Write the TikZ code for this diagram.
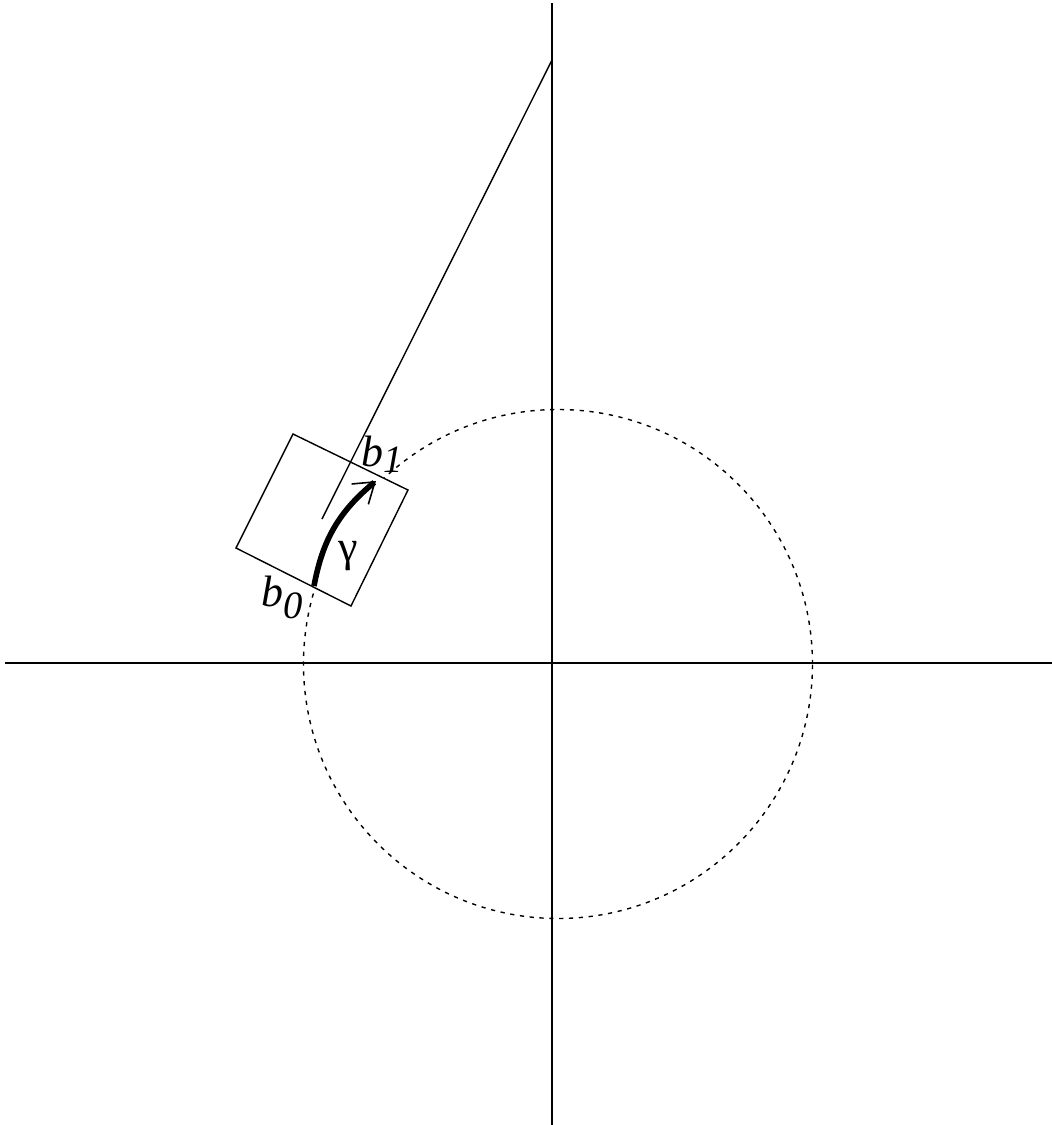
\documentclass[tikz,border=0pt]{standalone}
\usepackage{fontspec}
\setmainfont{Liberation Serif}
\usetikzlibrary{arrows.meta}
\begin{document}
\begin{tikzpicture}[
  axis/.style={line width=0.45pt},
  guide/.style={line width=0.4pt, dash pattern=on 1.2pt off 1.6pt},
  frame/.style={line width=0.4pt},
  path arc/.style={line width=1.6pt, -{Straight Barb[length=5.5pt,width=7.5pt,line width=0.45pt]}},
  lab/.style={font=\fontsize{12.5}{14}\selectfont, inner sep=1pt}
]
  \useasboundingbox (-5.52,-4.62) rectangle (5.00,6.63);

  % axes
  \coordinate (O) at (0,0);
  \coordinate (xl) at (-5.47,0);
  \coordinate (xr) at (5.00,0);
  \coordinate (yb) at (0,-4.62);
  \coordinate (yt) at (0,6.60);
  \draw[axis] (xl) -- (xr);
  \draw[axis] (yb) -- (yt);

  % circle
  \draw[guide] (0.06,-0.01) circle (2.545);

  % box and its axis line
  \coordinate (c1) at (-2.59,2.29);
  \coordinate (c2) at (-1.44,1.73);
  \coordinate (c3) at (-2.01,0.57);
  \coordinate (c4) at (-3.16,1.15);
  \draw[frame, fill=white] (c1) -- (c2) -- (c3) -- (c4) -- cycle;
  \coordinate (top) at (0,6.03);
  \coordinate (foot) at (-2.30,1.44);
  \draw[frame] (top) -- (foot);

  % gamma
  \coordinate (g0) at (-2.38,0.77);
  \coordinate (g1) at (-1.76,1.82);
  \draw[path arc] (g0) to[bend left=20] (g1);

  \node[lab] (b0) at (-2.70,0.66) {\textit{b}\raisebox{-0.6ex}{\textit{\fontsize{11}{12}\selectfont 0}}};
  \node[lab] (b1) at (-1.70,2.09) {\textit{b}\raisebox{-0.3ex}{\textit{\fontsize{11}{12}\selectfont 1}}};
  \node[lab] (gam) at (-2.04,1.07) {γ};
\end{tikzpicture}
\end{document}
